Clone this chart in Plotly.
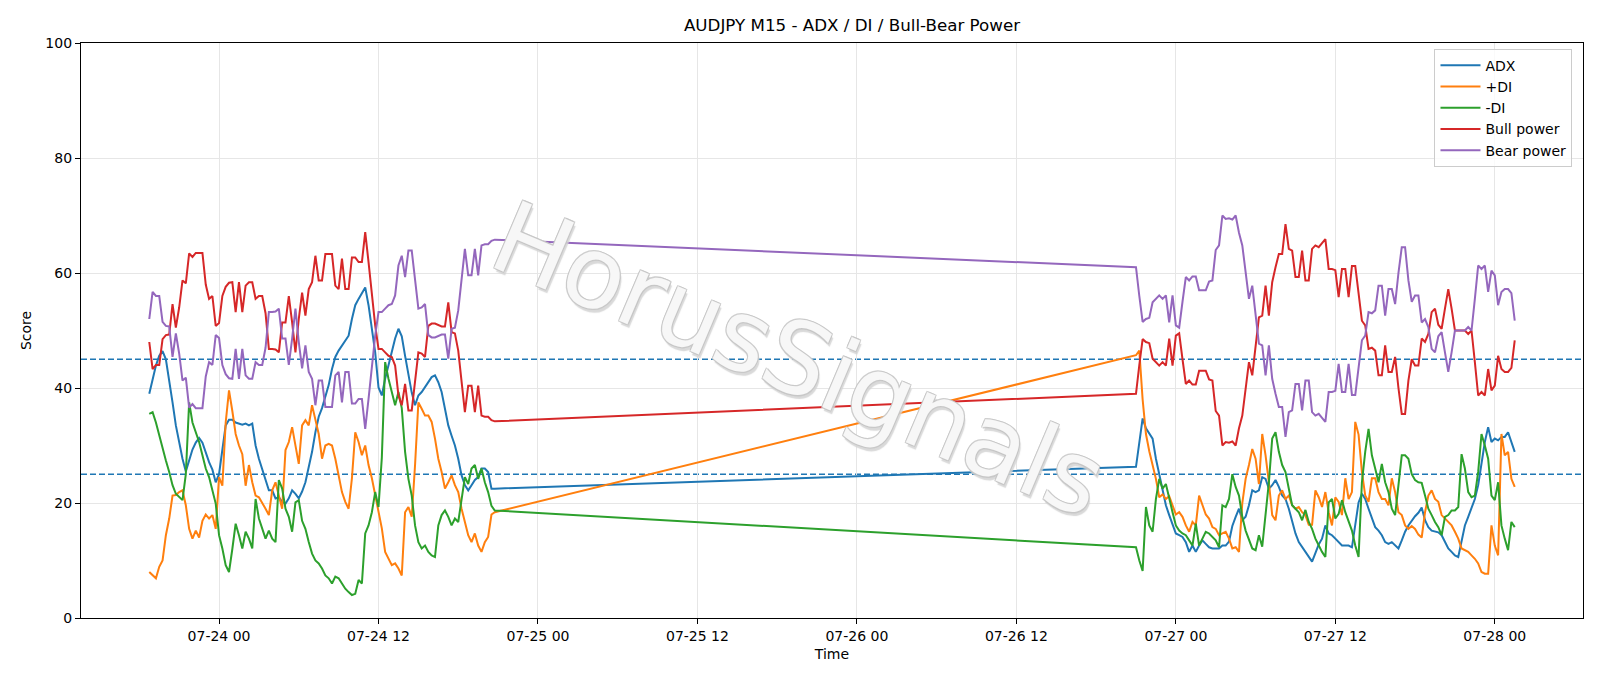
import pandas as pd
import plotly.graph_objects as go

# ---------------- data (M15 bars, two sessions) ----------------
seg1_start = "2025-07-23 18:45"
seg2_start = "2025-07-26 21:00"

adx_1 = [39, 41.6, 43.9, 45.6, 46.4, 45, 41.6, 37.5, 33.5, 30.6, 27.7, 25.5, 27.6, 29.3, 30.5, 31.3, 30.5, 28.6, 27.1, 25.8, 23.6, 25, 29.5, 33.5, 34.5, 34.5,
         34, 33.8, 33.6, 33.8, 33.5, 33.8, 30, 27.7, 26, 24.3, 22.2, 22.2, 20.8, 21, 20.2, 19.9, 20.8, 22.2, 21.6, 20.8, 22, 23.6, 26, 28.9, 32.3, 35,
         36.5, 38.5, 40.5, 43.3, 45.4, 46.5, 47.4, 48.3, 49.1, 52, 54.4, 55.5, 56.6, 57.5, 54.4, 50.3, 46.2, 40.1, 38.7, 41.6, 43.9, 46.2, 48.6, 50.3, 49,
         45.6, 42.4, 39.2, 37, 38.7, 39.3, 40.1, 41, 41.9, 42.2, 41, 39.3, 36.4, 33.5, 31.7, 30, 27.7, 24.8, 23.1, 22.2, 23.1, 24, 24.5, 26, 26, 25.4, 22.5, 22.5]
adx_2 = [26.3, 30.5, 34.7, 33, 32, 31.2, 27.7, 24.8, 21.9, 19.6, 17.9, 16.1, 14.7, 14.4, 14.1, 13.2, 11.5, 12.6, 11.5, 12.6, 13.5, 12.9, 12.3, 12.1, 12.1, 12.1, 12.6, 12.6,
         13.3, 16, 17.6, 19, 17, 17.6, 19.6, 22.2, 21.9, 22.2, 24.5, 24.2, 22.5, 23.1, 24, 22.8, 21.3, 20.7, 19, 16.7, 14.7, 13.2, 12.3, 11.5, 10.6, 9.8,
         11.3, 12.8, 13.8, 16.1, 14.7, 14.4, 13.8, 13.2, 12.6, 12.6, 12.6, 12.3, 16.1, 20.1, 21.6, 20.7, 19, 17.3, 15.8, 15.2, 14.4, 13.2, 12.9, 13.2, 12.6, 12.1, 13.5, 15, 16.1,
         17, 17.7, 18.3, 19.2, 17, 15.8, 15.2, 15.1, 14.9, 14.4, 13.2, 12.1, 11.5, 10.9, 10.6, 13.2, 16.1, 17.6, 19.3, 20.7, 23.1, 26.6, 30.6, 33.2, 30.6, 31.2, 30.9, 31.5, 31.5, 32.3, 30.6, 28.9]

pdi_1 = [8, 7.4, 6.9, 8.9, 10, 14.4, 17.3, 21.3, 21.4, 21.9, 22.2, 19.6, 15.5, 13.8, 15.2, 14, 16.9, 18, 17.3, 17.9, 15.5, 24.5, 23, 34, 39.6, 36,
         32, 30, 28.5, 23, 26.6, 23.6, 21.3, 21, 20.1, 19, 17.9, 22.2, 23.6, 21.3, 19, 29.2, 30.6, 33.2, 30, 26.8, 33.5, 34.4, 33.5, 37, 34.5, 32,
         27.7, 30, 30.3, 30, 27.7, 24.8, 21.9, 20.2, 19, 24.3, 32.3, 30.6, 28.3, 30, 26.6, 24.3, 21.3, 18.4, 15.6, 11.5, 10.3, 9.2, 9.5, 8.6, 7.4,
         18.4, 19.3, 17.6, 26.6, 37.5, 36.4, 35.2, 35.2, 34.1, 31.2, 27.7, 25.4, 22.5, 23.6, 24.8, 23.1, 21.9, 19, 16.7, 14.4, 13.2, 14.7, 12.6, 11.5, 13.2, 14.1, 18, 18.4]
pdi_2 = [45.7, 46.5, 38, 32, 29, 26.5, 24.2, 21, 21.5, 20.7, 21.2, 19.6, 18, 18.4, 17.6, 16.1, 15, 16.7, 16.1, 21.3, 19.7, 18, 17.3, 15.8, 15.5, 14.4, 14.7, 15,
         13.8, 12.1, 12.3, 11.5, 20, 24.2, 26.6, 29.4, 27.7, 23.3, 32, 28.3, 23.6, 17.9, 17, 21.3, 22.2, 20.7, 21.3, 19.6, 19, 19.3, 18.4, 17.9, 16.2, 16.2,
         22.2, 21, 19.3, 21.9, 18.4, 16.1, 21, 20.2, 17.9, 24.3, 20.7, 21.9, 34.1, 31.9, 25.4, 21.3, 20.2, 24.3, 24.3, 21.9, 20.7, 20.7, 19.6, 24.3, 21.9, 18.4, 17.9, 16.1, 15.5,
         16, 15.5, 14.5, 14, 18.4, 21.3, 22.2, 20.7, 20.2, 17.9, 17.3, 16.7, 16.1, 15, 13.8, 12.1, 11.8, 11.5, 10.9, 10.3, 9.5, 8, 7.7, 7.7, 16.1, 12.6, 10.9, 32, 28.3, 28.9, 24.2, 22.8]

mdi_1 = [35.5, 35.8, 34, 31.7, 29.4, 27.4, 25.4, 23.1, 21.6, 21.1, 20.5, 25, 37.5, 34, 32.3, 30.6, 28.3, 26, 24.5, 22, 19.9, 14.4, 12.1, 9.2, 8, 12,
         16.4, 14.4, 12.1, 15, 13.8, 12.1, 20.7, 17.3, 15.5, 13.8, 15.2, 13.8, 13.2, 24, 22.5, 19, 17.6, 15, 20.1, 20.5, 16.9, 15.5, 13.2, 11.2, 10, 9.5,
         8.6, 7.4, 6.9, 6, 7.2, 6.9, 6, 5.1, 4.5, 4, 4.2, 6.6, 6, 14.7, 16.1, 18.4, 21.9, 19.3, 27.9, 44.5, 41.6, 39.3, 37, 39.3, 36.5,
         28.9, 24.2, 21.3, 16.1, 13.2, 12.1, 12.6, 11.5, 10.9, 10.6, 16.1, 17.9, 18.7, 17.6, 16.1, 17.3, 16.7, 21, 24.5, 23.3, 26, 26.6, 24.2, 26, 23.6, 21.9, 19.5, 18.7]
mdi_2 = [12.3, 10, 8.2, 19.3, 16.1, 15, 20.7, 24.2, 22.5, 23.3, 20.7, 18.4, 16.1, 15.2, 14.7, 14.4, 13.5, 12.6, 16.4, 12.6, 13.8, 15, 14.7, 14.1, 13.5, 12.3, 19.6, 19.3,
         20.7, 25, 22.8, 21.3, 17.6, 15.2, 13.8, 12.1, 11.8, 14.4, 12.4, 18.4, 23.6, 31.2, 32.3, 28.9, 26.6, 25.4, 22.5, 19.6, 19, 18.4, 17, 18.8, 16.7, 15.5,
         13.8, 12.5, 11.5, 10.6, 20.1, 20.7, 17.3, 18.1, 20.5, 18.4, 16.7, 15.2, 12.6, 10.6, 23.6, 28.9, 32.9, 28.3, 26, 23.6, 26.8, 23.6, 21.9, 19, 17.9, 22.8, 28.3, 28.3, 27.7,
         25, 24, 23.6, 23.5, 21.3, 19, 17.9, 16.7, 15.8, 14.4, 17.6, 17.9, 18.7, 18.7, 19.3, 28.5, 26, 21.9, 21, 21.3, 25.4, 32, 30, 27.7, 21.3, 20.5, 23.6, 16.1, 13.8, 11.8, 16.7, 15.8]

bull_1 = [48, 43.3, 44, 44, 48.5, 49.2, 49.3, 54.6, 50.5, 54, 58.7, 58.2, 63.4, 62.8, 63.5, 63.5, 63.5, 58, 55.5, 56, 50.8, 51.3, 56, 57.6, 58.3, 58.4,
          53.2, 58.4, 53.2, 57.8, 58.4, 58.4, 55.5, 56, 56, 53, 46.8, 46.8, 46.7, 46.2, 51.4, 51.4, 56, 51.4, 46.2, 52, 56.6, 52.6, 57.2, 58.4, 63, 58.7,
          58.7, 63.3, 63.3, 63.3, 57.8, 57.2, 62.5, 57.2, 57.2, 62.7, 62.7, 61.9, 61.9, 67.1, 61.9, 56.1, 50.9, 46.8, 46.8, 46.2, 45.6, 45.4, 43.9, 38.7, 37,
          40.7, 36.1, 36.1, 41.6, 46.2, 46, 45.4, 50.8, 51.2, 51.2, 50.9, 50.7, 50.7, 54.9, 49.7, 49.5, 46.5, 41, 35.8, 40.4, 40.4, 35.8, 40.4, 35.2, 35, 35, 34.4, 34.2]
bull_2 = [39, 44, 48.5, 48, 47.8, 45.1, 44.5, 43.9, 44.5, 43.9, 48.6, 43.9, 49.1, 49.5, 45, 40.7, 41.3, 40.6, 40.6, 43, 43, 43, 41.5, 41.3, 36, 35.2, 30, 30.6,
          30.5, 30.7, 30, 33, 35.2, 39.5, 44.5, 42.2, 47.4, 52.3, 52.6, 57.8, 52.6, 58.4, 61, 63.3, 63.3, 68.5, 64.2, 63.9, 59.3, 59.3, 63.9, 58.7, 58.7, 64.2, 64.8, 64.5,
          65.2, 65.9, 60.7, 60.7, 60.5, 55.8, 60.7, 60.7, 55.8, 61.2, 61.2, 56.6, 51.7, 50.9, 46.8, 47, 46.5, 42.2, 42.2, 47.4, 42.8, 42.8, 45.4, 40, 35.5, 35.5, 41.3,
          45, 43.9, 43.9, 48.6, 48, 49.4, 53.2, 53.8, 51, 50.3, 53.8, 57.2, 53.8, 50, 50, 50, 50, 49.4, 50, 44.5, 38.7, 39.3, 38.7, 43.3, 39.6, 40.4, 45.6, 43.3, 42.8, 42.8, 43.5, 48.3]

bear_1 = [52, 56.7, 56, 56, 51.5, 50.8, 50.7, 45.4, 49.5, 46, 41.3, 41.8, 36.6, 37.2, 36.5, 36.5, 36.5, 42, 44.5, 44, 49.2, 48.7, 44, 42.4, 41.7, 41.6,
          46.8, 41.6, 46.8, 42.2, 41.6, 41.6, 44.5, 44, 44, 47, 53.2, 53.2, 53.3, 53.8, 48.6, 48.6, 44, 48.6, 53.8, 48, 43.4, 47.4, 42.8, 41.6, 37, 41.3,
          41.3, 36.7, 36.7, 36.7, 42.2, 42.8, 37.5, 42.8, 42.8, 37.3, 37.3, 38.1, 38.1, 32.9, 38.1, 43.9, 49.1, 53.2, 53.2, 53.8, 54.4, 54.6, 56.1, 61.3, 63,
          59.3, 63.9, 63.9, 58.4, 53.8, 54, 54.6, 49.2, 48.8, 48.8, 49.1, 49.3, 49.3, 45.1, 50.3, 50.5, 53.5, 59, 64.2, 59.6, 59.6, 64.2, 59.6, 64.8, 65, 65, 65.6, 65.8]
bear_2 = [61, 56, 51.5, 52, 52.2, 54.9, 55.5, 56.1, 55.5, 56.1, 51.4, 56.1, 50.9, 50.5, 55, 59.3, 58.7, 59.4, 59.4, 57, 57, 57, 58.5, 58.7, 64, 64.8, 70, 69.4,
          69.5, 69.3, 70, 67, 64.8, 60.5, 55.5, 57.8, 52.6, 47.7, 47.4, 42.2, 47.4, 41.6, 39, 36.7, 36.7, 31.5, 35.8, 36.1, 40.7, 40.7, 36.1, 41.3, 41.3, 35.8, 35.2, 35.5,
          34.8, 34.1, 39.3, 39.3, 39.5, 44.2, 39.3, 39.3, 44.2, 38.8, 38.8, 43.4, 48.3, 49.1, 53.2, 53, 53.5, 57.8, 57.8, 52.6, 57.2, 57.2, 54.6, 60, 64.5, 64.5, 58.7,
          55, 56.1, 56.1, 51.4, 52, 50.6, 46.8, 46.2, 49, 49.7, 46.2, 42.8, 46.2, 50, 50, 50, 50, 50.6, 50, 55.5, 61.3, 60.7, 61.3, 56.7, 60.4, 59.6, 54.4, 56.7, 57.2, 57.2, 56.5, 51.7]

levels = [45, 25]
series_names = ["ADX", "+DI", "-DI", "Bull power", "Bear power"]
colors = ["#1f77b4", "#ff7f0e", "#2ca02c", "#d62728", "#9467bd"]

# ---------------- build ----------------
t1 = pd.date_range(seg1_start, periods=len(adx_1), freq="15min")
t2 = pd.date_range(seg2_start, periods=len(adx_2), freq="15min")
times = list(t1) + list(t2)

all_series = [adx_1 + adx_2, pdi_1 + pdi_2, mdi_1 + mdi_2, bull_1 + bull_2, bear_1 + bear_2]

FONT = "DejaVu Sans"
fig = go.Figure()
for name, col, vals in zip(series_names, colors, all_series):
    fig.add_trace(go.Scatter(x=times, y=vals, mode="lines", name=name,
                             line=dict(color=col, width=2)))

tmin, tmax = times[0], times[-1]
span = tmax - tmin
xr = [tmin - 0.05 * span, tmax + 0.05 * span]

for lv in levels:
    fig.add_shape(type="line", xref="paper", x0=0, x1=1, yref="y", y0=lv, y1=lv,
                  line=dict(color="#1f77b4", width=1.5, dash="6px,3px"), layer="between")

fig.add_annotation(text="HorusSignals", xref="paper", yref="paper", x=0.478, y=0.45,
                   showarrow=False, textangle=23,
                   font=dict(family=FONT, size=100, color="rgba(255,255,255,0.85)",
                             shadow="1px 1px 0 #c6c6c6, -1px -1px 0 #c6c6c6, 1px -1px 0 #c6c6c6, -1px 1px 0 #c6c6c6, 3px 3px 1px #d2d2d2"))

fig.update_layout(
    width=1600, height=686,
    margin=dict(l=81, r=17, t=43, b=68),
    paper_bgcolor="white", plot_bgcolor="white",
    font=dict(family=FONT, size=14, color="black"),
    title=dict(text="AUDJPY M15 - ADX / DI / Bull-Bear Power", x=0.5325, xanchor="center",
               y=1 - 25 / 686, yanchor="middle", yref="container",
               font=dict(family=FONT, size=16.7, color="black")),
    showlegend=True,
    legend=dict(x=0.993, y=0.99, xanchor="right", yanchor="top",
                bgcolor="rgba(255,255,255,0.8)", bordercolor="#cccccc", borderwidth=1,
                font=dict(family=FONT, size=14), tracegroupgap=2, itemwidth=40),
    xaxis=dict(range=xr, type="date", tickformat="%m-%d %H",
               tick0="2025-07-24 00:00", dtick=12 * 3600 * 1000,
               showgrid=True, gridcolor="#e6e6e6", gridwidth=1,
               showline=True, linecolor="black", linewidth=1.2, mirror=True,
               ticks="outside", ticklen=5, tickcolor="black",
               zeroline=False,
               title=dict(text="Time", font=dict(family=FONT, size=14), standoff=6)),
    yaxis=dict(range=[0, 100], tickvals=[0, 20, 40, 60, 80, 100],
               showgrid=True, gridcolor="#e6e6e6", gridwidth=1,
               showline=True, linecolor="black", linewidth=1.2, mirror=True,
               ticks="outside", ticklen=5, tickcolor="black",
               zeroline=False,
               title=dict(text="Score", font=dict(family=FONT, size=14), standoff=10)),
)

fig.write_html("out.html")
